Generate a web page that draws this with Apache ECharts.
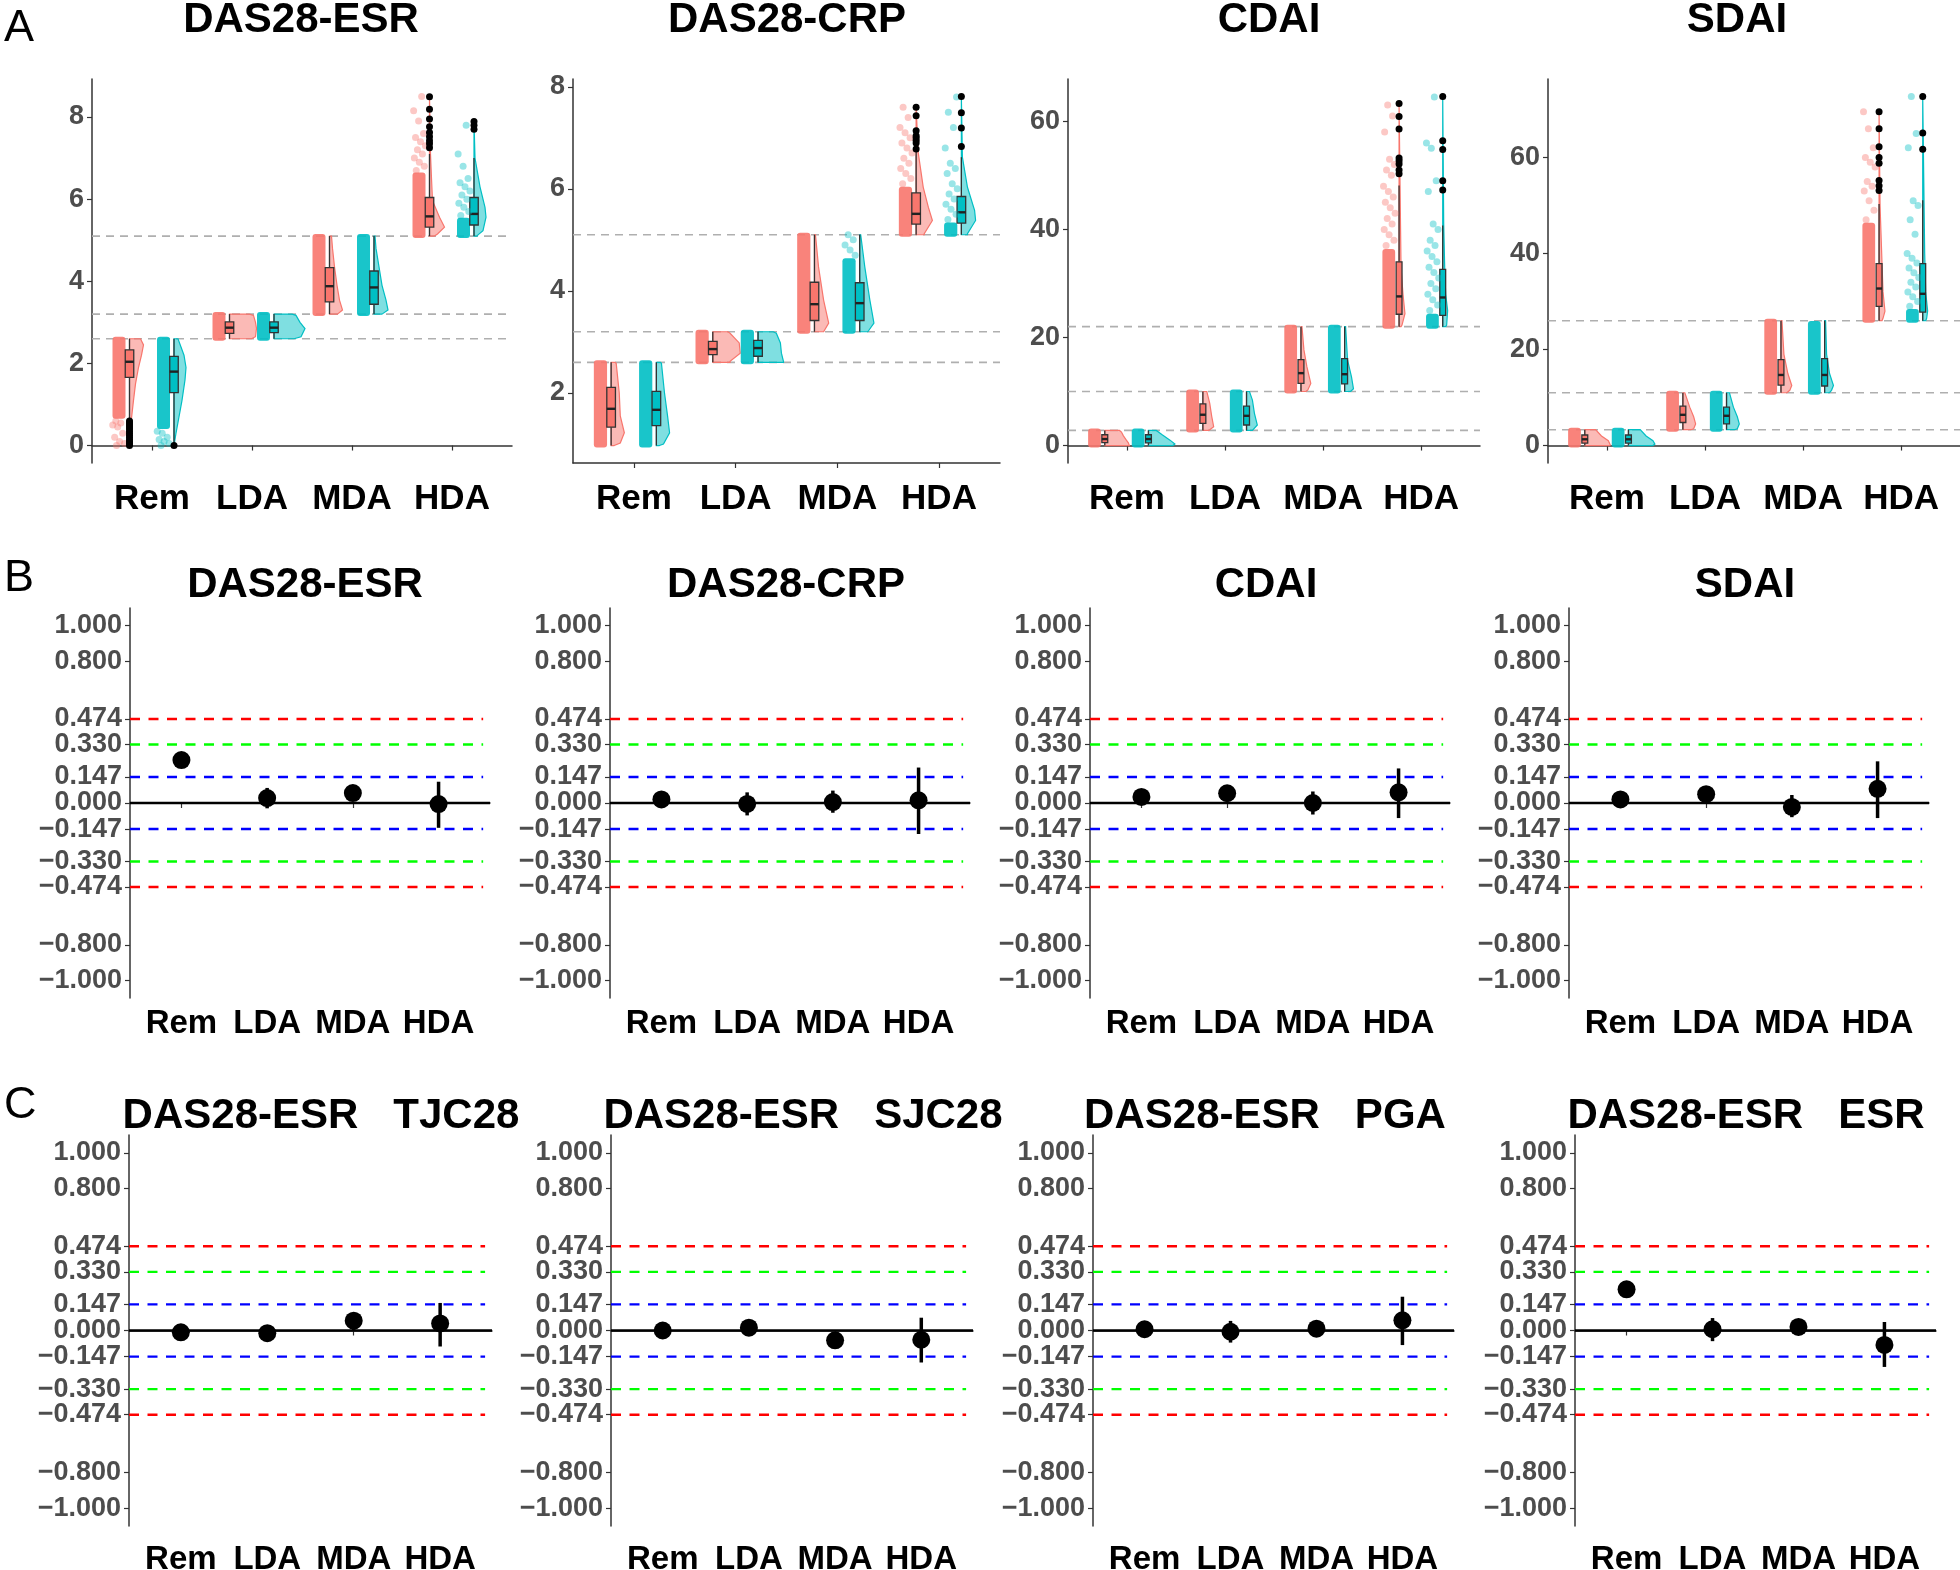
<!DOCTYPE html>
<html><head><meta charset="utf-8">
<script src="https://cdn.jsdelivr.net/npm/echarts@6/dist/echarts.min.js"></script>
<style>html,body{margin:0;padding:0;background:#fff}#c{width:1960px;height:1570px}</style>
</head><body><div id="c"></div>
<script>
// ---------------- DATA ----------------
const categories = ['Rem', 'LDA', 'MDA', 'HDA'];
const panelATitles = ['DAS28-ESR', 'DAS28-CRP', 'CDAI', 'SDAI'];
const panelBTitles = ['DAS28-ESR', 'DAS28-CRP', 'CDAI', 'SDAI'];
const panelCTitles = ['DAS28-ESR   TJC28', 'DAS28-ESR   SJC28', 'DAS28-ESR   PGA', 'DAS28-ESR   ESR'];

// Panel A: activity cut-offs (grey dashed lines) and y tick labels
const esrCuts = [2.6, 3.2, 5.1];
const crpCuts = [2.6, 3.2, 5.1];
const cdaiCuts = [2.8, 10, 22];
const sdaiCuts = [3.3, 11, 26];
const esrTicks = [0, 2, 4, 6, 8];
const crpTicks = [2, 4, 6, 8];
const cdaiTicks = [0, 20, 40, 60];
const sdaiTicks = [0, 20, 40, 60];

// Box statistics per category: [lowerWhisker, Q1, median, Q3, upperWhisker]
const esrBoxRed  = [[0.65,1.66,2.04,2.33,2.6],[2.6,2.73,2.87,3.01,3.2],[3.2,3.5,3.88,4.33,5.1],[5.1,5.32,5.58,6.04,7.1]];
const esrBoxCyan = [[0,1.29,1.80,2.17,2.6],[2.6,2.75,2.87,3.01,3.2],[3.2,3.44,3.85,4.25,5.1],[5.1,5.37,5.64,6.04,7.0]];
const crpBoxRed  = [[0.97,1.33,1.69,2.11,2.6],[2.6,2.75,2.86,3.01,3.2],[3.2,3.42,3.74,4.17,5.1],[5.1,5.31,5.51,5.92,6.72]];
const crpBoxCyan = [[0.97,1.36,1.67,2.03,2.6],[2.6,2.72,2.88,3.03,3.2],[3.2,3.42,3.76,4.16,5.1],[5.1,5.33,5.54,5.85,6.62]];
const cdaiBoxRed  = [[0,0.55,1.2,2.0,2.8],[2.8,4.1,5.7,7.7,10],[10,11.5,13.4,15.9,22],[22,24.3,27.6,34.0,48.1]];
const cdaiBoxCyan = [[0,0.5,1.2,2.0,2.8],[2.8,3.8,5.5,7.3,10],[10,11.4,13.2,16.1,22],[22,24.1,27.4,32.6,40.7]];
const sdaiBoxRed  = [[0,0.5,1.3,2.2,3.3],[3.3,4.8,6.4,8.2,11],[11,12.6,14.7,17.9,26],[26,29.0,32.7,37.9,50.3]];
const sdaiBoxCyan = [[0,0.5,1.3,2.2,3.3],[3.3,4.5,6.2,8.0,11],[11,12.4,14.7,18.1,26],[26,27.8,31.6,37.9,51.1]];

// Outliers per category
const esrOutRed  = [[0,0.05,0.1,0.15,0.2,0.25,0.3,0.35,0.4,0.45,0.5,0.55,0.6],[],[],[7.25,7.35,7.42,7.52,7.62,7.76,7.95,8.19,8.49]];
const esrOutCyan = [[0],[],[],[7.7,7.8,7.89]];
const crpOutRed  = [[],[],[],[6.78,6.9,6.95,7.0,7.04,7.14,7.43,7.6]];
const crpOutCyan = [[],[],[],[6.83,7.19,7.49,7.81]];
const cdaiOutRed  = [[],[],[],[50.3,51.0,52.1,52.7,53.2,58.6,60.9,63.3]];
const cdaiOutCyan = [[],[],[],[47.3,49.0,54.8,56.4,64.6]];
const sdaiOutRed  = [[],[],[],[53.1,54.1,55.2,58.8,60.0,62.2,66.0,69.5]];
const sdaiOutCyan = [[],[],[],[61.7,65.1,72.7]];

// Densely packed raw points: [from, to] per category
const esrDenseRed  = [[0.7,2.6],[2.6,3.2],[3.2,5.1],[5.1,6.6]];
const esrDenseCyan = [[0.45,2.6],[2.6,3.2],[3.2,5.1],[5.1,5.5]];
const crpDenseRed  = [[0.97,2.6],[2.6,3.2],[3.2,5.1],[5.1,6.0]];
const crpDenseCyan = [[0.97,2.6],[2.6,3.2],[3.2,4.6],[5.1,5.3]];
const cdaiDenseRed  = [[0,2.8],[2.8,10],[10,22],[22,36]];
const cdaiDenseCyan = [[0,2.8],[2.8,10],[10,22],[22,24]];
const sdaiDenseRed  = [[0,3.3],[3.3,11],[11,26],[26,46]];
const sdaiDenseCyan = [[0,3.3],[3.3,11],[11,25.5],[26,28]];

// Sparse raw points per category
const esrSparseRed  = [[0,0.05,0.1,0.2,0.3,0.45,0.5,0.55,0.6],[],[],[6.7,6.8,6.9,7.0,7.1,7.2,7.3,7.4,7.5,7.6,7.9,8.15,8.5]];
const esrSparseCyan = [[0,0.05,0.1,0.15,0.2,0.3,0.35],[],[],[5.6,5.7,5.8,5.9,6.0,6.1,6.2,6.3,6.4,6.5,6.8,7.1,7.8]];
const crpSparseRed  = [[],[],[],[6.1,6.2,6.3,6.4,6.5,6.6,6.7,6.8,6.9,7.0,7.1,7.2,7.4,7.6]];
const crpSparseCyan = [[],[],[4.7,4.8,4.9,5.0,5.1],[5.4,5.5,5.6,5.7,5.8,5.9,6.0,6.1,6.3,6.4,6.5,6.8,7.2,7.5,7.8]];
const cdaiSparseRed  = [[],[],[],[37,38,39,40,41,42,43,44,45,46,47,48,50,51,52,53,58,61,63]];
const cdaiSparseCyan = [[],[],[],[25,26,27,28,29,30,31,32,33,34,35,36,37,38,40,41,47,49,55,56,64.5]];
const sdaiSparseRed  = [[],[],[],[47,49,51,53,54,55,58,59,60,62,66,69.5]];
const sdaiSparseCyan = [[],[],[],[29,30,31,32,33,34,35,36,37,38,39,40,44,47,50,51,62,65,72.7]];

// Half-violin density profiles: [value, half width in category units]
const esrVioRed = [
  [[0,0],[0.6,0.017],[1.1,0.04],[1.5,0.06],[1.9,0.09],[2.2,0.12],[2.45,0.14],[2.6,0.11]],
  [[2.6,0.22],[2.65,0.26],[2.85,0.27],[3.0,0.26],[3.17,0.24],[3.2,0.2]],
  [[3.2,0.08],[3.3,0.13],[3.54,0.10],[3.9,0.075],[4.35,0.05],[4.8,0.03],[5.1,0.02]],
  [[5.1,0.05],[5.15,0.08],[5.32,0.15],[5.56,0.10],[5.96,0.03],[6.5,0.02],[7.1,0.01],[8.5,0]]];
const esrVioCyan = [
  [[0,0],[0.3,0.02],[1.1,0.08],[1.6,0.11],[1.9,0.12],[2.2,0.10],[2.6,0.04]],
  [[2.6,0.2],[2.65,0.27],[2.85,0.31],[3.0,0.26],[3.17,0.22],[3.2,0.18]],
  [[3.2,0.08],[3.3,0.14],[3.54,0.12],[3.9,0.08],[4.35,0.05],[4.8,0.02],[5.1,0.01]],
  [[5.1,0.03],[5.13,0.04],[5.23,0.09],[5.56,0.12],[5.8,0.11],[6.3,0.06],[7.0,0.01],[7.9,0]]];
const crpVioRed = [
  [[0.97,0.03],[1.02,0.09],[1.22,0.13],[1.55,0.09],[2.0,0.08],[2.58,0.05],[2.6,0.04]],
  [[2.6,0.17],[2.62,0.17],[2.78,0.27],[2.98,0.26],[3.17,0.17],[3.2,0.15]],
  [[3.2,0.09],[3.37,0.14],[3.82,0.09],[4.47,0.04],[5.1,0.01]],
  [[5.1,0.08],[5.12,0.08],[5.38,0.16],[5.64,0.12],[6.03,0.07],[6.72,0.02],[7.6,0]]];
const crpVioCyan = [
  [[0.97,0.03],[1.0,0.07],[1.22,0.13],[1.55,0.11],[2.0,0.08],[2.58,0.05],[2.6,0.04]],
  [[2.6,0.25],[2.62,0.25],[2.78,0.23],[2.98,0.22],[3.17,0.18],[3.2,0.15]],
  [[3.2,0.08],[3.37,0.14],[3.82,0.10],[4.47,0.05],[5.1,0.01]],
  [[5.1,0.06],[5.12,0.06],[5.38,0.14],[5.58,0.13],[6.03,0.06],[6.62,0.01],[7.81,0]]];
const cdaiVioRed = [
  [[0,0.25],[0.5,0.24],[1.0,0.22],[1.8,0.19],[2.5,0.17],[2.8,0.15]],
  [[2.8,0.06],[3.5,0.11],[5.4,0.09],[7.8,0.07],[10,0.04]],
  [[10,0.05],[10.3,0.07],[11.5,0.10],[14.6,0.06],[17.7,0.03],[22,0.01]],
  [[22,0.02],[22.3,0.03],[24.4,0.06],[28,0.04],[33,0.02],[48,0.01],[63.3,0]]];
const cdaiVioCyan = [
  [[0,0.25],[0.3,0.27],[1.0,0.22],[2.0,0.14],[2.8,0.08]],
  [[2.8,0.06],[3.8,0.11],[6,0.08],[8.4,0.06],[10,0.03]],
  [[10,0.06],[10.5,0.09],[12.7,0.07],[15.8,0.03],[22,0.01]],
  [[22,0.03],[22.3,0.04],[25,0.05],[28,0.03],[33,0.02],[41,0.01],[64.6,0]]];
const sdaiVioRed = [
  [[0,0.25],[0.1,0.26],[1.0,0.24],[2.0,0.17],[3.3,0.11]],
  [[3.3,0.08],[3.5,0.11],[4.5,0.13],[6,0.11],[8,0.07],[11,0.02]],
  [[11,0.06],[11.5,0.09],[12.5,0.11],[15,0.07],[19,0.03],[26,0.01]],
  [[26,0.03],[26.5,0.04],[28,0.06],[32,0.04],[38,0.03],[50,0.01],[69.5,0]]];
const sdaiVioCyan = [
  [[0,0.25],[0.3,0.27],[1.0,0.25],[2.0,0.18],[3.3,0.12]],
  [[3.3,0.08],[3.5,0.11],[4.5,0.13],[6,0.11],[8,0.07],[11,0.03]],
  [[11,0.05],[11.5,0.07],[12.5,0.09],[15,0.05],[19,0.02],[26,0.01]],
  [[26,0.03],[26.5,0.04],[28,0.05],[32,0.03],[40,0.02],[72.7,0]]];

// Panels B & C: effect-size thresholds and correlation estimates [estimate, lower, upper]
const effectCuts = [0.147, 0.33, 0.474];
const corrTicks = [-1, -0.8, -0.474, -0.33, -0.147, 0, 0.147, 0.33, 0.474, 0.8, 1];
const bEsrCorr  = [[0.242,0.23,0.255],[0.028,-0.03,0.085],[0.056,0.017,0.09],[-0.006,-0.14,0.12]];
const bCrpCorr  = [[0.02,0.005,0.035],[-0.005,-0.07,0.06],[0.005,-0.055,0.07],[0.015,-0.175,0.2]];
const bCdaiCorr = [[0.034,0.02,0.05],[0.055,0.03,0.08],[0.0,-0.065,0.065],[0.06,-0.085,0.195]];
const bSdaiCorr = [[0.02,0.005,0.035],[0.05,0.03,0.07],[-0.022,-0.08,0.045],[0.08,-0.085,0.235]];
const cTjcCorr  = [[-0.01,-0.02,0.0],[-0.015,-0.03,0.0],[0.055,0.0,0.09],[0.04,-0.09,0.155]];
const cSjcCorr  = [[0.0,-0.01,0.01],[0.016,0.0,0.03],[-0.055,-0.07,-0.04],[-0.052,-0.18,0.072]];
const cPgaCorr  = [[0.007,-0.005,0.02],[-0.007,-0.068,0.054],[0.01,-0.005,0.025],[0.057,-0.082,0.19]];
const cEsrCorr  = [[0.232,0.22,0.245],[0.007,-0.06,0.07],[0.02,-0.025,0.063],[-0.081,-0.205,0.048]];

// ---------------- LAYOUT / STYLE ----------------
const FONT = '"Liberation Sans", Arial, Helvetica, sans-serif';
const RED = '#F8766D', CYAN = '#00BFC4';
const RED_L = 'rgba(248,118,109,0.5)', CYAN_L = 'rgba(0,191,196,0.5)';
const AXIS = '#333333';
const OFF_RED = -0.225, OFF_CYAN = 0.22;

const gridsA = [[92,79,420,384],[573,79,427,384],[1068,79,412,384],[1548,79,412,384]];
const gridsB = [[130,608,360,390],[610,608,360,390],[1090,608,360,390],[1569,608,360,390]];
const gridsC = [[129,1135,363,391],[611,1135,362,391],[1093,1135,361,391],[1575,1135,361,391]];

const panelsA = [
  {cuts:esrCuts, ticks:esrTicks, box:[esrBoxRed,esrBoxCyan], out:[esrOutRed,esrOutCyan], dense:[esrDenseRed,esrDenseCyan], sparse:[esrSparseRed,esrSparseCyan], vio:[esrVioRed,esrVioCyan], bw:0.085},
  {cuts:crpCuts, ticks:crpTicks, box:[crpBoxRed,crpBoxCyan], out:[crpOutRed,crpOutCyan], dense:[crpDenseRed,crpDenseCyan], sparse:[crpSparseRed,crpSparseCyan], vio:[crpVioRed,crpVioCyan], bw:0.085},
  {cuts:cdaiCuts, ticks:cdaiTicks, box:[cdaiBoxRed,cdaiBoxCyan], out:[cdaiOutRed,cdaiOutCyan], dense:[cdaiDenseRed,cdaiDenseCyan], sparse:[cdaiSparseRed,cdaiSparseCyan], vio:[cdaiVioRed,cdaiVioCyan], bw:0.06},
  {cuts:sdaiCuts, ticks:sdaiTicks, box:[sdaiBoxRed,sdaiBoxCyan], out:[sdaiOutRed,sdaiOutCyan], dense:[sdaiDenseRed,sdaiDenseCyan], sparse:[sdaiSparseRed,sdaiSparseCyan], vio:[sdaiVioRed,sdaiVioCyan], bw:0.06}
];
const corrPanels = [bEsrCorr, bCrpCorr, bCdaiCorr, bSdaiCorr, cTjcCorr, cSjcCorr, cPgaCorr, cEsrCorr];

function jit(i) { return ((i * 0.6180339887) + 0.31) % 1; }
function fmtCorr(v) { const s = Math.abs(v).toFixed(3); return v < 0 ? '\u2212' + s : s; }

const grid = [], xAxis = [], yAxis = [], series = [], graphic = [];

function addGrid(g) {
  grid.push({left:g[0], top:g[1], width:g[2], height:g[3], containLabel:false, outerBoundsMode:'none'});
}
function xAx(idx, margin, fs) {
  return {gridIndex:idx, type:'value', min:0.4, max:4.6,
    axisLine:{show:true, lineStyle:{color:AXIS, width:1.5}},
    axisTick:{show:true, length:5, lineStyle:{color:AXIS, width:1.2}, customValues:[1,2,3,4]},
    axisLabel:{show:true, customValues:[1,2,3,4], formatter:v => categories[Math.round(v)-1],
      color:'#000', fontWeight:'bold', fontSize:fs, fontFamily:FONT, margin:margin},
    splitLine:{show:false}};
}

// ---- Panel A ----
panelsA.forEach((p, k) => {
  addGrid(gridsA[k]);
  let lo = Infinity, hi = -Infinity;
  [0,1].forEach(g => {
    p.box[g].forEach(b => { lo = Math.min(lo, b[0]); hi = Math.max(hi, b[4]); });
    p.out[g].forEach(a => a.forEach(v => { lo = Math.min(lo, v); hi = Math.max(hi, v); }));
    p.sparse[g].forEach(a => a.forEach(v => { lo = Math.min(lo, v); hi = Math.max(hi, v); }));
  });
  const pad = (hi - lo) * 0.05;
  xAxis.push(xAx(k, 19, 35));
  yAxis.push({gridIndex:k, type:'value', min:lo - pad, max:hi + pad,
    axisLine:{show:true, lineStyle:{color:AXIS, width:1.5}},
    axisTick:{show:true, length:5, lineStyle:{color:AXIS, width:1.2}, customValues:p.ticks},
    axisLabel:{show:true, customValues:p.ticks, color:'#4D4D4D', fontWeight:'bold', fontSize:27, fontFamily:FONT, margin:8},
    splitLine:{show:false}});
  p.cuts.forEach(c => series.push({type:'line', xAxisIndex:k, yAxisIndex:k, data:[[0.4,c],[4.6,c]],
    symbol:'none', silent:true, z:1, lineStyle:{color:'#AFAFAF', width:1.6, type:[8,6]}}));
  [0,1].forEach(g => {
    const off = g === 0 ? OFF_RED : OFF_CYAN;
    const col = g === 0 ? RED : CYAN, lcol = g === 0 ? RED_L : CYAN_L;
    const boxes = p.box[g], dense = p.dense[g], vios = p.vio[g];
    series.push({type:'custom', xAxisIndex:k, yAxisIndex:k, z:2, silent:true,
      data: boxes.map((b, i) => [i + 1 + off, b[2]]),
      renderItem: (params, api) => {
        const i = params.dataIndex, cx = i + 1 + off, b = boxes[i], d = dense[i], v = vios[i];
        const ch = [];
        const a1 = api.coord([cx - 0.17, d[1]]), a2 = api.coord([cx - 0.04, d[0]]);
        ch.push({type:'rect', shape:{x:a1[0], y:a1[1]-2, width:a2[0]-a1[0], height:a2[1]-a1[1]+4, r:3},
          style:{fill:col, opacity:0.9}});
        const pts = v.map(q => api.coord([cx + q[1], q[0]]));
        pts.push(api.coord([cx, v[v.length-1][0]]));
        pts.push(api.coord([cx, v[0][0]]));
        ch.push({type:'polygon', shape:{points:pts}, style:{fill:lcol, stroke:col, lineWidth:1.2}});
        const w = p.bw / 2;
        const t1 = api.coord([cx, b[0]]), t2 = api.coord([cx, b[1]]), t3 = api.coord([cx, b[3]]), t4 = api.coord([cx, b[4]]);
        ch.push({type:'line', shape:{x1:t1[0], y1:t1[1], x2:t2[0], y2:t2[1]}, style:{stroke:AXIS, lineWidth:1.3}});
        ch.push({type:'line', shape:{x1:t3[0], y1:t3[1], x2:t4[0], y2:t4[1]}, style:{stroke:AXIS, lineWidth:1.3}});
        const q1 = api.coord([cx - w, b[3]]), q2 = api.coord([cx + w, b[1]]);
        ch.push({type:'rect', shape:{x:q1[0], y:q1[1], width:q2[0]-q1[0], height:q2[1]-q1[1]},
          style:{fill:col, stroke:AXIS, lineWidth:1.3}});
        const m1 = api.coord([cx - w, b[2]]), m2 = api.coord([cx + w, b[2]]);
        ch.push({type:'line', shape:{x1:m1[0], y1:m1[1], x2:m2[0], y2:m2[1]}, style:{stroke:'#222', lineWidth:2.4}});
        return {type:'group', children:ch};
      }});
    const sp = [];
    p.sparse[g].forEach((arr, i) => arr.forEach((v, j) => sp.push([i + 1 + off - 0.17 + 0.13 * jit(j + i * 7), v])));
    series.push({type:'scatter', xAxisIndex:k, yAxisIndex:k, z:3, silent:true, data:sp, symbolSize:7,
      itemStyle:{color:col, opacity:0.4}});
    const op = [];
    p.out[g].forEach((arr, i) => arr.forEach(v => op.push([i + 1 + off, v])));
    series.push({type:'scatter', xAxisIndex:k, yAxisIndex:k, z:4, silent:true, data:op, symbolSize:7,
      itemStyle:{color:'#000', opacity:1}});
  });
});

// ---- Panels B and C ----
corrPanels.forEach((vals, j) => {
  const k = 4 + j;
  addGrid(j < 4 ? gridsB[j] : gridsC[j - 4]);
  xAxis.push(xAx(k, j < 4 ? 9 : 17, 33));
  yAxis.push({gridIndex:k, type:'value', min:-1.1, max:1.1,
    axisLine:{show:true, lineStyle:{color:AXIS, width:1.5}},
    axisTick:{show:true, length:5, lineStyle:{color:AXIS, width:1.2}, customValues:corrTicks},
    axisLabel:{show:true, customValues:corrTicks, formatter:fmtCorr, color:'#4D4D4D', fontWeight:'bold', fontSize:27, fontFamily:FONT, margin:8},
    splitLine:{show:false}});
  const cutCols = ['#0000FF', '#00FF00', '#FF0000'];
  effectCuts.forEach((c, ci) => {
    [c, -c].forEach(v => series.push({type:'line', xAxisIndex:k, yAxisIndex:k, data:[[0.4,v],[4.52,v]],
      symbol:'none', silent:true, z:1, lineStyle:{color:cutCols[ci], width:2.4, type:[10,8.5]}}));
  });
  series.push({type:'line', xAxisIndex:k, yAxisIndex:k, data:[[0.4,0],[4.6,0]], symbol:'none', silent:true, z:2,
    lineStyle:{color:'#000', width:2.4}});
  series.push({type:'custom', xAxisIndex:k, yAxisIndex:k, z:3, silent:true,
    data: vals.map((v, i) => [i + 1, v[0]]),
    renderItem: (params, api) => {
      const i = params.dataIndex, v = vals[i];
      const p1 = api.coord([i + 1, v[1]]), p2 = api.coord([i + 1, v[2]]);
      return {type:'line', shape:{x1:p1[0], y1:p1[1], x2:p2[0], y2:p2[1]}, style:{stroke:'#000', lineWidth:3.5}};
    }});
  series.push({type:'scatter', xAxisIndex:k, yAxisIndex:k, z:4, silent:true,
    data: vals.map((v, i) => [i + 1, v[0]]), symbolSize:18, itemStyle:{color:'#000', opacity:1}});
});

// ---- Titles & panel letters ----
const titleFont = 'bold 42px ' + FONT;
const aCx = [301, 787, 1269, 1737], bCx = [305, 786, 1266, 1745], cCx = [321, 803, 1265, 1746];
panelATitles.forEach((t, i) => graphic.push({type:'text', x:aCx[i], y:20, style:{text:t, font:titleFont, fill:'#000', textAlign:'center', textVerticalAlign:'middle'}}));
panelBTitles.forEach((t, i) => graphic.push({type:'text', x:bCx[i], y:585, style:{text:t, font:titleFont, fill:'#000', textAlign:'center', textVerticalAlign:'middle'}}));
panelCTitles.forEach((t, i) => graphic.push({type:'text', x:cCx[i], y:1116, style:{text:t, font:titleFont, fill:'#000', textAlign:'center', textVerticalAlign:'middle'}}));
[['A', 29], ['B', 579], ['C', 1106]].forEach(l => graphic.push({type:'text', x:4, y:l[1],
  style:{text:l[0], font:'45px ' + FONT, fill:'#000', textAlign:'left', textVerticalAlign:'middle'}}));

const chart = echarts.init(document.getElementById('c'), null, {renderer:'canvas'});
chart.setOption({animation:false, backgroundColor:'#fff', grid, xAxis, yAxis, series, graphic});
</script></body></html>
